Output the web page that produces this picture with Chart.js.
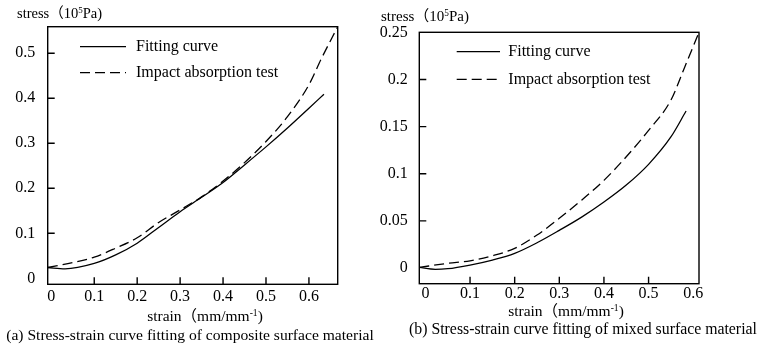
<!DOCTYPE html>
<html><head><meta charset="utf-8">
<script src="https://cdn.jsdelivr.net/npm/chart.js@4.4.1/dist/chart.umd.min.js"></script>
<style>
html,body{margin:0;padding:0;background:#fff;}
#wrap{position:relative;width:760px;height:347px;overflow:hidden;font-family:"Liberation Serif","Times New Roman","Noto Sans CJK SC",serif;color:#000;}
canvas{position:absolute;top:0;}
.t{position:absolute;white-space:nowrap;line-height:1;}
.c{transform:translateX(-50%);}
.s{font-size:0.62em;position:relative;top:-0.55em;}
</style></head>
<body><div id="wrap">
<canvas id="ca" width="380" height="347" style="left:0"></canvas>
<canvas id="cb" width="380" height="347" style="left:380px"></canvas>
<div class="t" style="left:17px;top:6px;font-size:14.5px">stress（10<span class="s">5</span>Pa)</div>
<div class="t" style="left:381px;top:9px;font-size:15px">stress（10<span class="s">5</span>Pa)</div>
<div class="t c" style="left:205px;top:308px;font-size:15.5px">strain（mm/mm<span class="s">-1</span>)</div>
<div class="t c" style="left:566px;top:303px;font-size:15.5px">strain（mm/mm<span class="s">-1</span>)</div>
<div class="t c" style="left:190px;top:327px;font-size:15.6px">(a) Stress-strain curve fitting of composite surface material</div>
<div class="t c" style="left:583px;top:321px;font-size:15.8px">(b) Stress-strain curve fitting of mixed surface material</div>
</div>
<script>
// ---- data ----
const seriesNames = ['Fitting curve', 'Impact absorption test'];

// (a) composite surface material
const xTicksA = [0, 0.1, 0.2, 0.3, 0.4, 0.5, 0.6];
const xTickLabelsA = ['0', '0.1', '0.2', '0.3', '0.4', '0.5', '0.6'];
const yTicksA = [0, 0.1, 0.2, 0.3, 0.4, 0.5];
const yTickLabelsA = ['0', '0.1', '0.2', '0.3', '0.4', '0.5'];
const fitStrainA = [-0.008, 0.032, 0.1, 0.15, 0.2, 0.25, 0.3, 0.35, 0.4, 0.45, 0.5, 0.55, 0.6, 0.635];
const fitStressA = [0.024, 0.021, 0.033, 0.052, 0.078, 0.113, 0.148, 0.180, 0.213, 0.252, 0.292, 0.334, 0.378, 0.409];
const testStrainA = [-0.008, 0.05, 0.1, 0.15, 0.2, 0.25, 0.3, 0.35, 0.4, 0.45, 0.5, 0.55, 0.6, 0.63, 0.667];
const testStressA = [0.024, 0.035, 0.047, 0.067, 0.090, 0.124, 0.152, 0.181, 0.216, 0.257, 0.304, 0.359, 0.43, 0.49, 0.559];

// (b) mixed surface material
const xTicksB = [0, 0.1, 0.2, 0.3, 0.4, 0.5, 0.6];
const xTickLabelsB = ['0', '0.1', '0.2', '0.3', '0.4', '0.5', '0.6'];
const yTicksB = [0, 0.05, 0.1, 0.15, 0.2, 0.25];
const yTickLabelsB = ['0', '0.05', '0.1', '0.15', '0.2', '0.25'];
const fitStrainB = [-0.0137, 0.022, 0.05, 0.1, 0.15, 0.2, 0.25, 0.3, 0.35, 0.4, 0.45, 0.5, 0.55, 0.584];
const fitStressB = [0.0007, -0.0014, -0.0007, 0.0032, 0.0085, 0.0156, 0.0268, 0.040, 0.054, 0.070, 0.088, 0.110, 0.139, 0.1665];
const testStrainB = [-0.0137, 0.05, 0.1, 0.15, 0.2, 0.25, 0.3, 0.35, 0.4, 0.45, 0.5, 0.55, 0.58, 0.613];
const testStressB = [0.0007, 0.005, 0.0077, 0.013, 0.0209, 0.035, 0.0527, 0.072, 0.093, 0.118, 0.146, 0.178, 0.212, 0.25];

// ---- drawing ----
const framePlugin = {
  id: 'frame',
  afterDraw(chart, args, opts) {
    const {ctx, chartArea: a, scales} = chart;
    ctx.save();
    ctx.strokeStyle = '#000';
    ctx.lineWidth = 1.4;
    ctx.setLineDash([]);
    ctx.strokeRect(a.left, a.top, a.right - a.left, a.bottom - a.top);
    ctx.beginPath();
    scales.x.ticks.forEach(t => {
      if (t.value === 0) return;
      const px = scales.x.getPixelForValue(t.value);
      if (px - a.left < 7 || a.right - px < 7) return;
      ctx.moveTo(px, a.bottom); ctx.lineTo(px, a.bottom - opts.tick);
    });
    scales.y.ticks.forEach(t => {
      if (t.value === 0) return;
      const py = scales.y.getPixelForValue(t.value);
      if (py - a.top < 4 || a.bottom - py < 4) return;
      ctx.moveTo(a.left, py); ctx.lineTo(a.left + opts.tick, py);
    });
    ctx.stroke();
    const L = opts.legend;
    chart.data.datasets.forEach((ds, i) => {
      const y = a.top + L.y + i * L.row;
      const x0 = a.left + L.x;
      ctx.setLineDash(ds.borderDash || []);
      ctx.lineWidth = ds.borderWidth;
      ctx.strokeStyle = ds.borderColor;
      ctx.beginPath(); ctx.moveTo(x0, y); ctx.lineTo(x0 + L.len, y); ctx.stroke();
      ctx.setLineDash([]);
      ctx.fillStyle = '#000';
      ctx.font = L.font;
      ctx.textBaseline = 'middle';
      ctx.textAlign = 'left';
      ctx.fillText(ds.label, x0 + L.len + L.gap, y);
    });
    ctx.restore();
  }
};

function pts(xs, ys) { return xs.map((x, i) => ({x: x, y: ys[i]})); }

function makeChart(id, c) {
  const tickFont = {family: 'Liberation Serif', size: 16};
  return new Chart(document.getElementById(id), {
    type: 'line',
    data: {datasets: [
      {label: seriesNames[0], data: pts(c.fitX, c.fitY), borderColor: '#000', borderWidth: 1.3,
       pointRadius: 0, cubicInterpolationMode: 'monotone', fill: false},
      {label: seriesNames[1], data: pts(c.testX, c.testY), borderColor: '#000', borderWidth: 1.3,
       borderDash: [10, 5], pointRadius: 0, cubicInterpolationMode: 'monotone', fill: false}
    ]},
    options: {
      responsive: false, animation: false, devicePixelRatio: 1,
      layout: {padding: {left: 0, top: c.top, right: c.right, bottom: c.bottom}},
      plugins: {legend: {display: false}, tooltip: {enabled: false},
        frame: {tick: 7, legend: c.legend}},
      scales: {
        x: {type: 'linear', min: c.xmin, max: c.xmax,
          afterBuildTicks: s => { s.ticks = c.xTicks.map(v => ({value: v})); },
          afterFit: s => { s.height = 30; },
          grid: {display: false, drawTicks: false}, border: {display: false},
          ticks: {padding: c.xpad, color: '#000', font: tickFont, maxRotation: 0, autoSkip: false,
            callback: (v, i) => c.xLabels[i]}},
        y: {type: 'linear', min: c.ymin, max: c.ymax,
          afterBuildTicks: s => { s.ticks = c.yTicks.map(v => ({value: v})); },
          afterFit: s => { s.width = c.yw; },
          grid: {display: false, drawTicks: false}, border: {display: false},
          ticks: {padding: c.ypad, color: '#000', font: tickFont, autoSkip: false,
            callback: (v, i) => c.yLabels[i]}}
      }
    },
    plugins: [framePlugin]
  });
}

makeChart('ca', {
  fitX: fitStrainA, fitY: fitStressA, testX: testStrainA, testY: testStressA,
  xTicks: xTicksA, xLabels: xTickLabelsA, yTicks: yTicksA, yLabels: yTickLabelsA,
  xmin: -0.0084, xmax: 0.667, ymin: -0.0133, ymax: 0.559,
  top: 26.7, right: 42.3, bottom: 32.7, yw: 47.7, xpad: 3, ypad: 12.5,
  legend: {x: 32.3, y: 20, row: 26, len: 46, gap: 10, font: '16px "Liberation Serif"'}
});
makeChart('cb', {
  fitX: fitStrainB, fitY: fitStressB, testX: testStrainB, testY: testStressB,
  xTicks: xTicksB, xLabels: xTickLabelsB, yTicks: yTicksB, yLabels: yTickLabelsB,
  xmin: -0.0137, xmax: 0.613, ymin: -0.0166, ymax: 0.25,
  top: 32.3, right: 61, bottom: 33.3, yw: 39.3, xpad: 0, ypad: 11.5,
  legend: {x: 37.4, y: 19.4, row: 27.6, len: 43.3, gap: 8.3, font: '16px "Liberation Serif"'}
});
</script>
</body></html>
